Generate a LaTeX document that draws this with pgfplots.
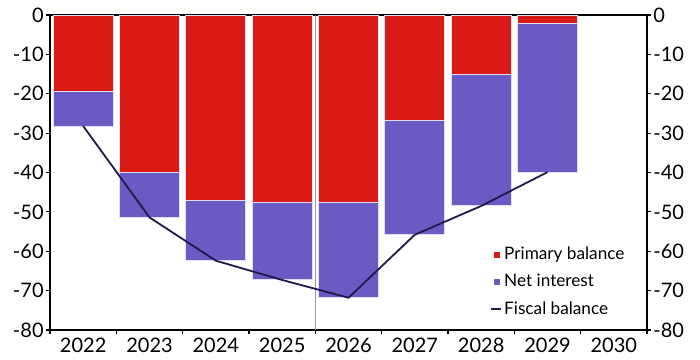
\documentclass[border=0pt]{standalone}
\usepackage{fontspec}
\setmainfont{Lato}
\usepackage{pgfplots}
\usepackage{pgfplotstable}
\pgfplotsset{compat=1.18}

\definecolor{primred}{HTML}{DA1A14}
\definecolor{netpurple}{HTML}{6A5AC4}
\definecolor{fiscalnavy}{HTML}{1F1A4B}
\definecolor{baredge}{HTML}{E2DEF5}

% Fiscal balance decomposition by year
\pgfplotstableread{
idx primary interest total
0   -19.5   -8.7    -28.2
1   -39.9   -11.5   -51.4
2   -47.2   -15.2   -62.4
3   -47.7   -19.6   -67.3
4   -47.7   -24.1   -71.8
5   -26.8   -29.0   -55.8
6   -15.2   -33.3   -48.5
7   -2.2    -37.7   -39.9
}\fiscaldata

\pgfplotsset{
  base/.style={
    scale only axis,
    width=298.5pt, height=157.5pt,
    xmin=-0.5, xmax=8.5,
    ymin=-80, ymax=0,
    ytick={-80,-70,...,0},
    tick align=outside,
    major tick length=2pt,
    tick style={black, line width=0.6pt},
    tick label style={font=\fontsize{10}{12}\selectfont, inner sep=1pt},
    /pgf/number format/assume math mode=true,
  },
}

\begin{document}
\begin{tikzpicture}
\useasboundingbox (-25pt,-14.5pt) rectangle (325pt,165pt);

% stacked bars with the left scale and the category axis
\begin{axis}[
  base,
  ybar stacked,
  bar width=0.9,
  axis line style={black, line width=0.6pt},
  ytick pos=left,
  xtick={-0.5,0.5,...,8.5},
  xticklabels={2022,2023,2024,2025,2026,2027,2028,2029,2030},
  x tick label as interval,
  xtick pos=bottom,
  xticklabel style={inner sep=1.8pt},
]
\addplot[fill=primred, draw=baredge, line width=0.5pt] table[x=idx, y=primary]{\fiscaldata};
\addplot[fill=netpurple, draw=baredge, line width=0.5pt] table[x=idx, y=interest]{\fiscaldata};
\end{axis}

% fiscal balance line, right scale and legend
\begin{axis}[
  base,
  axis line style={draw=none},
  xtick=\empty,
  ytick pos=right,
  yticklabel pos=right,
  legend entries={Primary balance, Net interest, Fiscal balance},
  legend cell align=left,
  legend style={
    draw=none, fill=none,
    at={(0.737,0.272)}, anchor=north west,
    font=\fontsize{8.6}{10}\selectfont,
    inner sep=0pt,
    row sep=3.9pt,
    nodes={inner sep=1pt},
  },
]
\addlegendimage{legend image code/.code={\fill[primred] (0pt,-1.3pt) rectangle (2.6pt,1.3pt);}}
\addlegendimage{legend image code/.code={\fill[netpurple] (0pt,-1.3pt) rectangle (2.6pt,1.3pt);}}
\addplot[gray!80, line width=0.6pt, forget plot] coordinates {(3.5,-80) (3.5,0)};
\addplot[fiscalnavy, line width=0.9pt, mark=none,
  legend image code/.code={\draw[fiscalnavy, line width=0.9pt] (-1.35pt,0) -- (3.65pt,0);}]
  table[x=idx, y=total]{\fiscaldata};
\end{axis}
\end{tikzpicture}
\end{document}
